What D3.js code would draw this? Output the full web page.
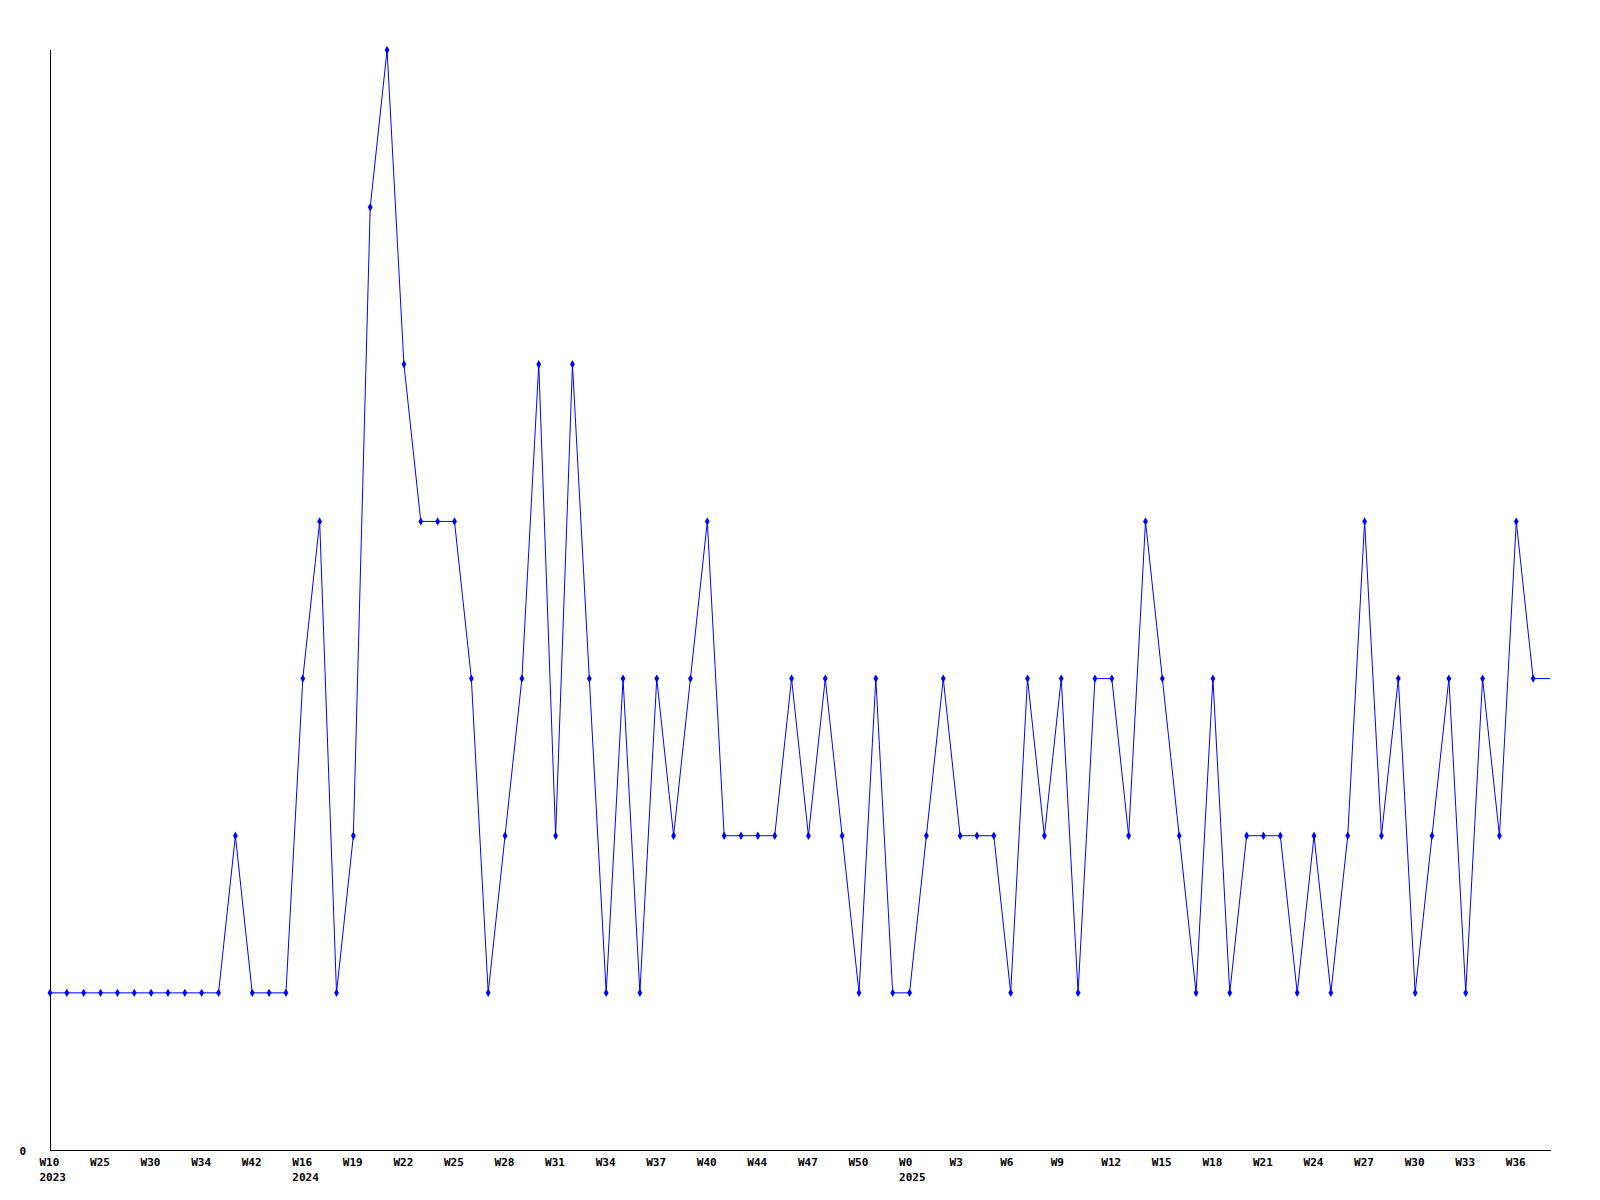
<!DOCTYPE html>
<html>
<head>
<meta charset="utf-8">
<script src="https://cdn.jsdelivr.net/npm/d3@7"></script>
<style>
  html, body { margin: 0; padding: 0; background: #fff; }
  svg { display: block; }
  text { font-family: "DejaVu Sans Mono", monospace; font-weight: bold; font-size: 11px; fill: #000; }
</style>
</head>
<body>
<svg id="chart" width="1600" height="1200"></svg>
<script>
// Weekly counts (one per category, 90 categories)
const values = [
  1,1,1,1,1,1,1,1,1,1,
  1,2,1,1,1,3,4,1,2,6,
  7,5,4,4,4,3,1,2,3,5,
  2,5,3,1,3,1,3,2,3,4,
  2,2,2,2,3,2,3,2,1,3,
  1,1,2,3,2,2,2,1,3,2,
  3,1,3,3,2,4,3,2,1,3,
  1,2,2,2,1,2,1,2,4,2,
  3,1,2,3,1,3,2,4,3,3
];
// Tick labels shown on every third category
const tickWeeks = ["W10","W25","W30","W34","W42","W16","W19","W22","W25","W28",
                   "W31","W34","W37","W40","W44","W47","W50","W0","W3","W6",
                   "W9","W12","W15","W18","W21","W24","W27","W30","W33","W36"];
const tickYears = ["2023","","","","","2024","","","","",
                   "","","","","","","","2025","","",
                   "","","","","","","","","",""];
const tickStep = 3;
const yMax = 7;
const yTicks = [0];

(function () {
const svg = d3.select("#chart");
const mLeft = 50, mRight = 1550, mTop = 50, mBottom = 1150, axisEnd = 1551;

const x = d3.scaleLinear().domain([0, values.length - 1]).range([mLeft, mRight]);
const y = d3.scaleLinear().domain([0, yMax]).range([mBottom, mTop]);

// axes lines
svg.append("line").attr("x1", mLeft + 0.5).attr("x2", mLeft + 0.5)
  .attr("y1", mTop).attr("y2", mBottom + 0.5).attr("stroke", "#000").attr("stroke-width", 1);
svg.append("line").attr("x1", mLeft).attr("x2", axisEnd)
  .attr("y1", mBottom + 0.5).attr("y2", mBottom + 0.5).attr("stroke", "#000").attr("stroke-width", 1);

// y tick labels
svg.selectAll("text.ytick").data(yTicks).enter().append("text")
  .attr("class", "ytick")
  .attr("x", 26).attr("y", d => y(d) + 5)
  .attr("text-anchor", "end")
  .text(d => d);

// x tick labels (left-aligned slightly before each tick)
const tickData = tickWeeks.map((w, i) => ({ idx: i * tickStep, w, yr: tickYears[i] }));
const tg = svg.selectAll("g.xtick").data(tickData).enter().append("g")
  .attr("class", "xtick")
  .attr("transform", d => `translate(${x(d.idx) - 10.5},0)`);
tg.append("text").attr("y", 1166).attr("text-anchor", "start").text(d => d.w);
tg.filter(d => d.yr).append("text").attr("y", 1181).attr("text-anchor", "start").text(d => d.yr);

// line
const line = d3.line().x((d, i) => x(i)).y(d => y(d));
svg.append("path").datum(values)
  .attr("d", line)
  .attr("fill", "none")
  .attr("stroke", "#0000ff")
  .attr("stroke-width", 1);

// markers (last point is at the plot edge and has no marker)
const sym = d3.symbol().type(d3.symbolDiamond).size(20);
svg.selectAll("path.pt").data(values.slice(0, values.length - 1)).enter().append("path")
  .attr("class", "pt")
  .attr("transform", (d, i) => `translate(${x(i)},${y(d)})`)
  .attr("d", sym)
  .attr("fill", "#0000ff");
})();
</script>
</body>
</html>
